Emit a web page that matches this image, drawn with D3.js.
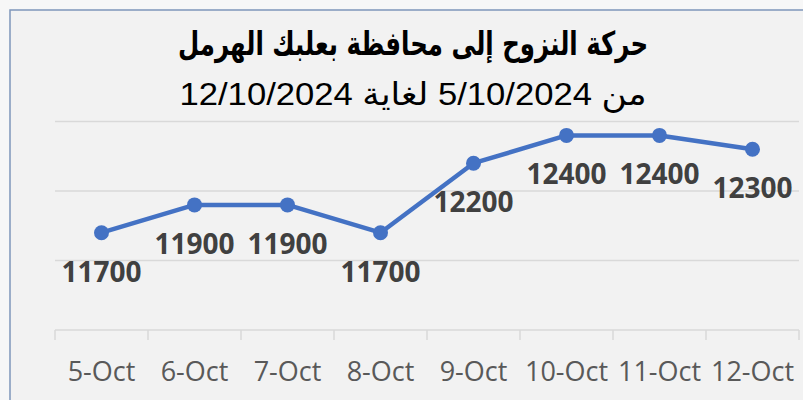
<!DOCTYPE html>
<html lang="en">
    <head>
        <meta charset="utf-8">
        <title>Displacement Line Chart</title>
        <script src="https://d3js.org/d3.v7.min.js"></script>
        <style type="text/css">
            body {
                margin: 0;
                background: #f7f7f7;
            }
            .axis text {
                font-family: "Open Sans", sans-serif;
                font-size: 27px;
                fill: #595959;
            }
            .grid line {
                stroke: #d9d9d9;
                stroke-width: 1.5px;
            }
            .line {
                fill: none;
                stroke: #4472c4;
                stroke-width: 4.5px;
                stroke-linejoin: round;
            }
            .label {
                font-family: "Open Sans", sans-serif;
                font-size: 28px;
                font-weight: bold;
                fill: #404040;
            }
        </style>
    </head>

    <body>
        <script type="text/javascript">

            const categories = ["5-Oct", "6-Oct", "7-Oct", "8-Oct", "9-Oct", "10-Oct", "11-Oct", "12-Oct"];
            const values = [11700, 11900, 11900, 11700, 12200, 12400, 12400, 12300];
            const gridTicks = [11500, 12000, 12500];
            const title = "حركة النزوح إلى محافظة بعلبك الهرمل";
            const subtitle = "من 5/10/2024 لغاية 12/10/2024";

            const w = 803;
            const h = 400;

            const data = categories.map((c, i) => ({cat: c, val: values[i]}));

            const svg = d3.select("body")
                          .append("svg")
                          .attr("width", w)
                          .attr("height", h)
                          .style("display", "block");

            // chart frame
            svg.append("rect")
               .attr("x", 10)
               .attr("y", 10)
               .attr("width", 820)
               .attr("height", 420)
               .attr("fill", "#f2f2f2")
               .attr("stroke", "#7f97bb")
               .attr("stroke-width", 1.5);

            // Scales
            const xScale = d3.scaleBand()
                             .domain(categories)
                             .range([55, 799]);

            const yScale = d3.scaleLinear()
                             .domain([11000, 12500])
                             .range([330, 121.5]);

            // gridlines
            svg.append("g")
               .attr("class", "grid")
               .selectAll("line")
               .data(gridTicks)
               .join("line")
               .attr("x1", 55)
               .attr("x2", 799)
               .attr("y1", d => yScale(d))
               .attr("y2", d => yScale(d));

            // bottom axis, ticks sit between categories
            const bottomAxis = d3.axisBottom(xScale)
                                 .tickSize(0)
                                 .tickPadding(32);

            const ax = svg.append("g")
                          .attr("class", "axis")
                          .attr("transform", "translate(0," + yScale(11000) + ")")
                          .call(bottomAxis);
            ax.select(".domain").remove();

            const bounds = categories.map(c => xScale(c)).concat([xScale.range()[1]]);
            const axisG = svg.append("g").attr("class", "grid");
            axisG.append("line")
                 .attr("x1", 55).attr("x2", 799)
                 .attr("y1", yScale(11000)).attr("y2", yScale(11000));
            axisG.selectAll(".tick-mark")
                 .data(bounds)
                 .join("line")
                 .attr("class", "tick-mark")
                 .attr("x1", d => d).attr("x2", d => d)
                 .attr("y1", yScale(11000)).attr("y2", yScale(11000) + 10);

            const cx = d => xScale(d.cat) + xScale.bandwidth() / 2;

            const line = d3.line()
                           .x(cx)
                           .y(d => yScale(d.val));

            svg.append("path")
               .datum(data)
               .attr("class", "line")
               .attr("d", line);

            svg.selectAll(".dot")
               .data(data)
               .join("circle")
               .attr("class", "dot")
               .attr("cx", cx)
               .attr("cy", d => yScale(d.val))
               .attr("r", 7.5)
               .attr("fill", "#4472c4");

            svg.selectAll(".label")
               .data(data)
               .join("text")
               .attr("class", "label")
               .attr("x", cx)
               .attr("y", d => yScale(d.val) + 49)
               .attr("text-anchor", "middle")
               .text(d => d.val);

            // titles, squeezed to the width they take in the picture
            svg.append("text")
               .attr("x", 413)
               .attr("y", 55)
               .attr("text-anchor", "middle")
               .attr("direction", "rtl")
               .attr("textLength", 470)
               .attr("lengthAdjust", "spacingAndGlyphs")
               .style("font-family", "'DejaVu Sans', sans-serif")
               .style("font-weight", "bold")
               .style("font-size", "33px")
               .style("fill", "#000")
               .text(title);

            svg.append("text")
               .attr("x", 413)
               .attr("y", 105)
               .attr("text-anchor", "middle")
               .attr("direction", "rtl")
               .attr("textLength", 467)
               .attr("lengthAdjust", "spacingAndGlyphs")
               .style("font-family", "'Liberation Sans', 'DejaVu Sans', sans-serif")
               .style("font-size", "32px")
               .style("fill", "#000")
               .text(subtitle);
        </script>
    </body>
</html>
